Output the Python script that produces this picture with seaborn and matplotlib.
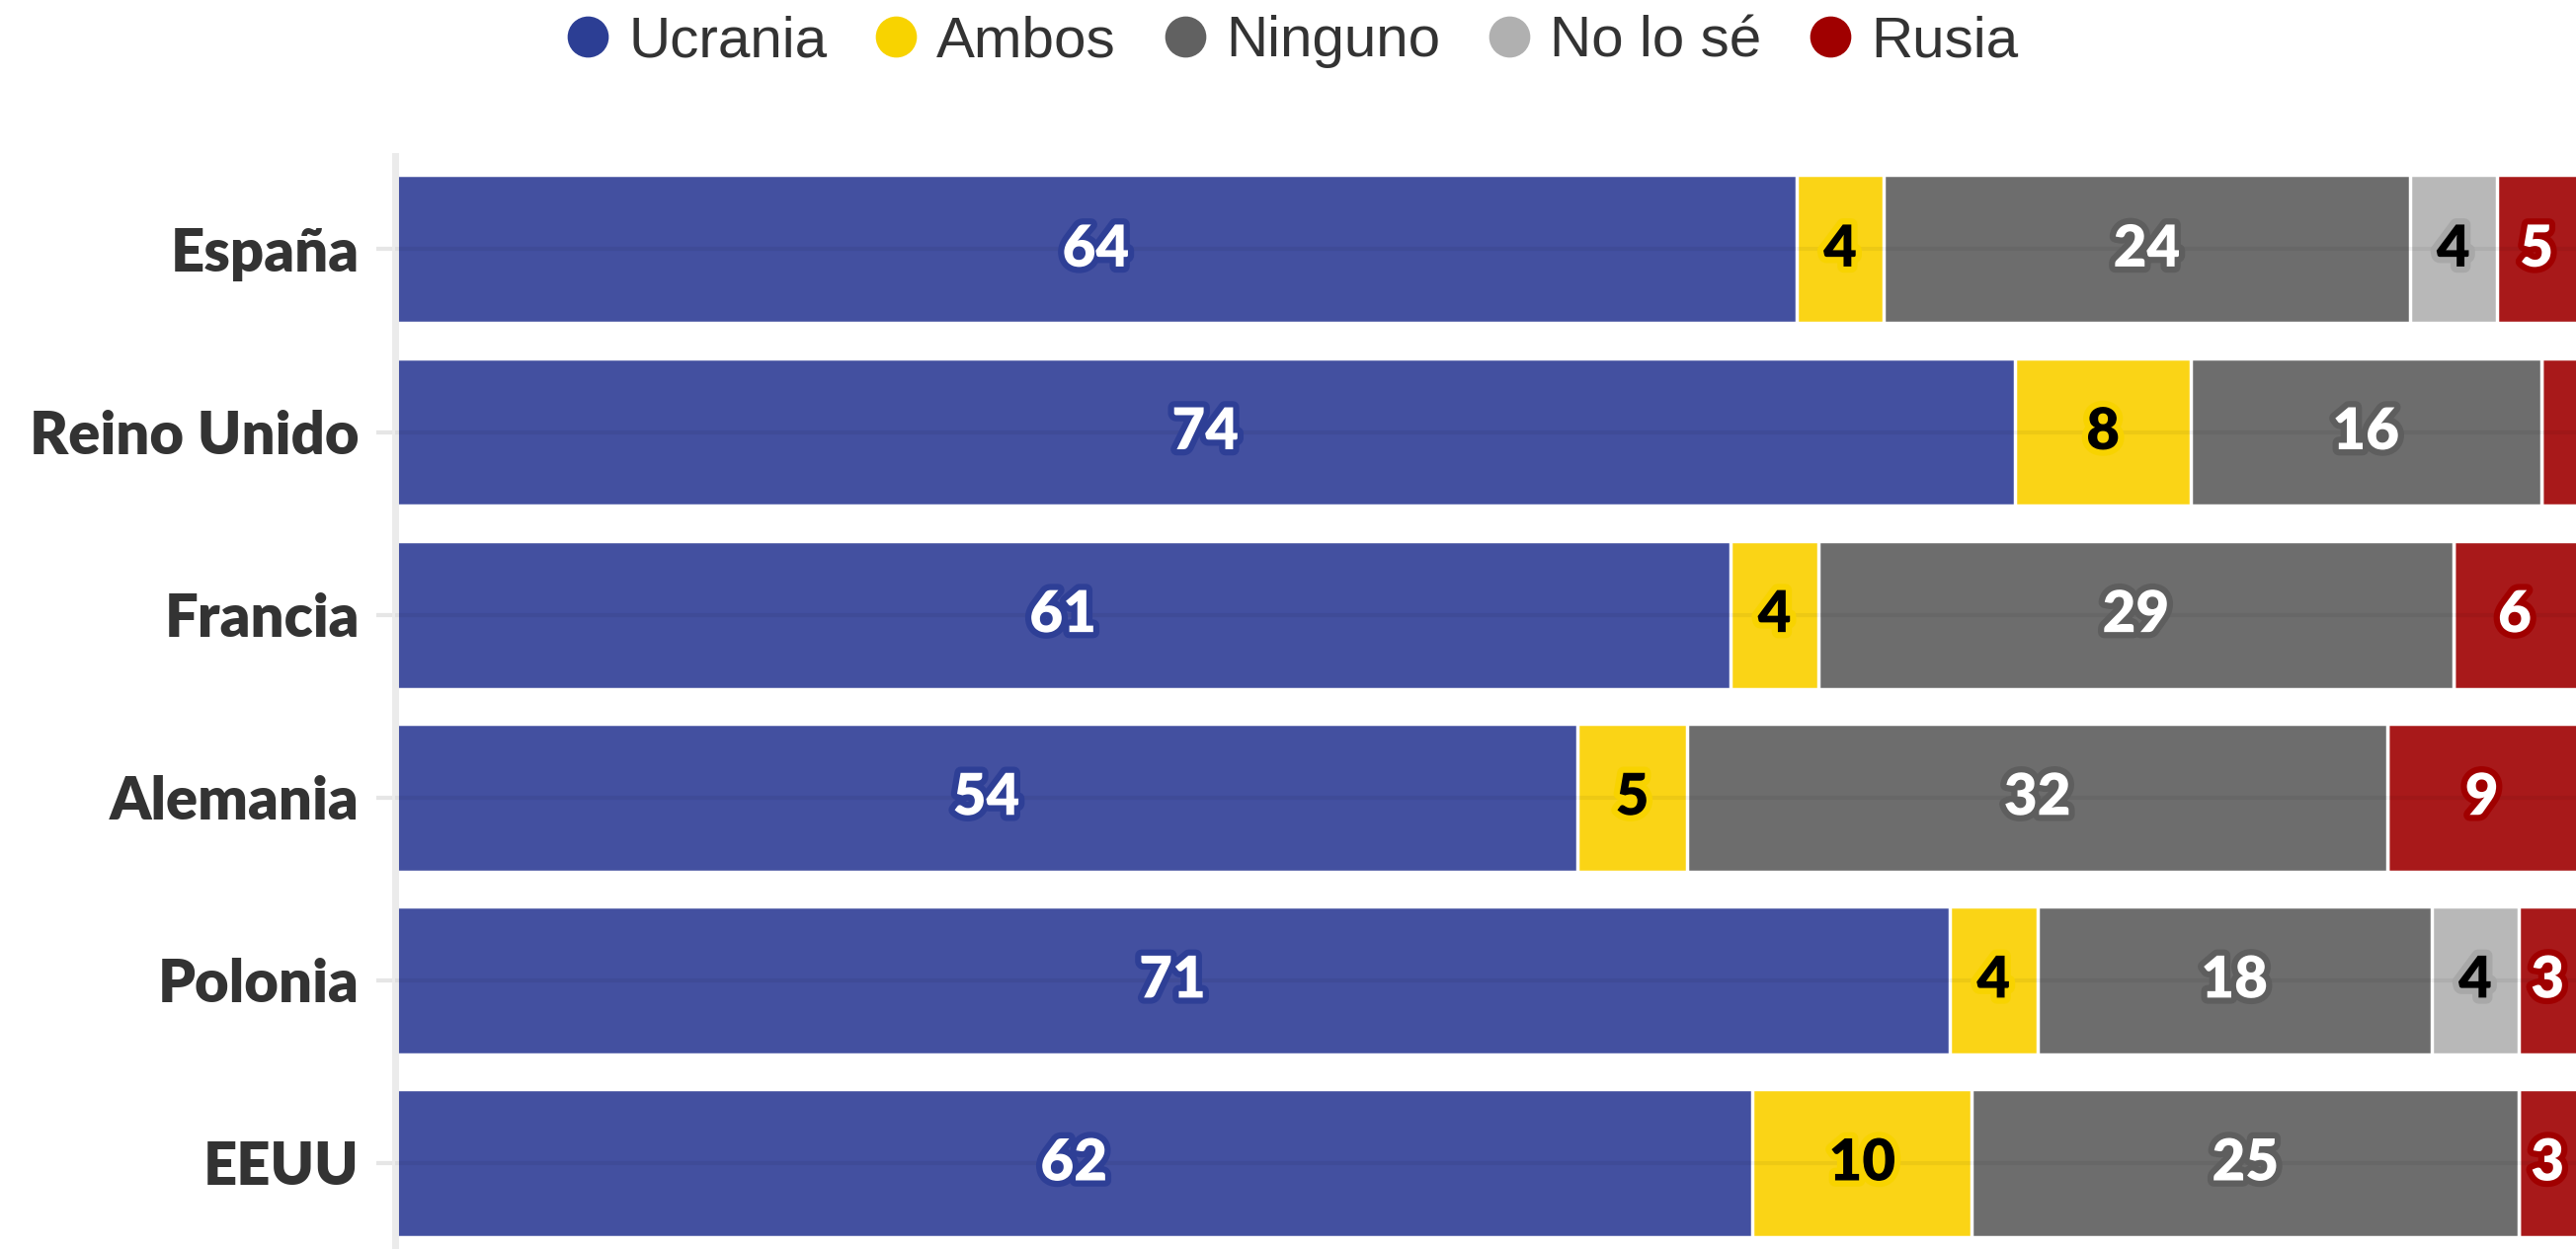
import matplotlib.pyplot as plt
import matplotlib.patheffects as pe
from matplotlib.lines import Line2D
import pandas as pd
import numpy as np
import seaborn as sns

sns.set_theme(style="white")
plt.rcParams['font.family'] = ['Lato', 'DejaVu Sans']

# Datos
paises = ["España", "Reino Unido", "Francia", "Alemania", "Polonia", "EEUU"]
series = ["Ucrania", "Ambos", "Ninguno", "No lo sé", "Rusia"]
ucrania = [64, 74, 61, 54, 71, 62]
ambos = [4, 8, 4, 5, 4, 10]
ninguno = [24, 16, 29, 32, 18, 25]
no_lo_se = [4, 0, 0, 0, 4, 0]
rusia = [5, 2, 6, 9, 3, 3]

colores_barra = ["#4350a0", "#fad416", "#6d6d6d", "#b8b8b8", "#a8191a"]
colores_leyenda = ["#2c3e94", "#f8d300", "#616161", "#b0b0b0", "#a00000"]
colores_texto = ["white", "black", "white", "black", "white"]
colores_borde = ["#2e3f96", "#f8d300", "#5e5e5e", "#a8a8a8", "#a00000"]

df = pd.DataFrame({"País": paises, "Ucrania": ucrania, "Ambos": ambos,
                   "Ninguno": ninguno, "No lo sé": no_lo_se, "Rusia": rusia})
cum = df[series].cumsum(axis=1)
inicio = cum - df[series]

XMAX = 99.6

fig = plt.figure(figsize=(26.08, 12.65), dpi=100)
ax = fig.add_axes([400 / 2608, 0, 1 - 400 / 2608, (1265 - 158) / 1265])

# barras apiladas: se dibujan los acumulados de mayor a menor
for i in range(len(series) - 1, -1, -1):
    s = series[i]
    sns.barplot(x=cum[s], y=df["País"], color=colores_barra[i], orient="h",
                saturation=1, width=0.81, edgecolor="white", linewidth=2.5,
                ax=ax, zorder=2)

for j in range(len(paises)):
    ax.axhline(j, color="black", alpha=0.05, lw=3, zorder=3)

# etiquetas de valor
for i, s in enumerate(series):
    for j in range(len(paises)):
        v = df[s][j]
        a = inicio[s][j]
        b = min(cum[s][j], XMAX)
        if v < 3 or a >= XMAX:
            continue
        ax.text((a + b) / 2, j, str(v), ha="center", va="center",
                fontsize=42, fontweight="heavy", color=colores_texto[i], zorder=4,
                path_effects=[pe.withStroke(linewidth=9, foreground=colores_borde[i])])

ax.set_xlim(0, XMAX)
ax.set_ylim(5.47, -0.51)
ax.set_xlabel("")
ax.set_ylabel("")
ax.set_xticks([])
for sp in ["top", "right", "bottom"]:
    ax.spines[sp].set_visible(False)
ax.spines["left"].set_color("#ebebeb")
ax.spines["left"].set_linewidth(5)
ax.tick_params(axis="y", length=14, width=3, color="#e6e6e6", pad=12, left=True)
for lab in ax.get_yticklabels():
    lab.set_fontsize(43)
    lab.set_fontweight("heavy")
    lab.set_color("#333333")

handles = [Line2D([0], [0], marker="o", linestyle="", markersize=29,
                  markerfacecolor=c, markeredgecolor=c) for c in colores_leyenda]
fig.legend(handles, series, loc="center", bbox_to_anchor=(1290 / 2608, 1 - 42 / 1265),
           ncol=5, frameon=False, handletextpad=-0.3, columnspacing=0.2,
           prop={"family": ["Liberation Sans Narrow", "Liberation Sans", "DejaVu Sans"], "size": 42},
           labelcolor="#333333")

fig.savefig("out.png", dpi=100)
